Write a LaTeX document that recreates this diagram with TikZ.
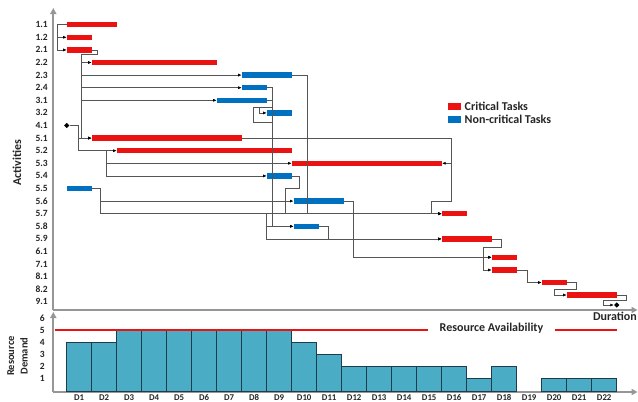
\documentclass[tikz,border=0pt]{standalone}
\usepackage{fontspec}
\setmainfont{Carlito}
\usetikzlibrary{arrows.meta,shapes.geometric}
\definecolor{critred}{RGB}{235,18,18}
\definecolor{ncblue}{RGB}{0,112,192}
\definecolor{tealbar}{RGB}{75,172,198}
\definecolor{tealedge}{RGB}{30,60,75}
\definecolor{axisgray}{RGB}{150,150,150}
\definecolor{linkgray}{RGB}{85,85,85}
\tikzset{
  critbar/.style={rectangle, fill=critred, minimum height=5.5pt, inner sep=0pt, anchor=west},
  ncbar/.style={rectangle, fill=ncblue, minimum height=5.5pt, inner sep=0pt, anchor=west},
  milestone/.style={diamond, fill=black, inner sep=0pt, minimum size=5.5pt},
  link/.style={draw=linkgray, line width=0.6pt},
  arr/.style={link, -{Latex[length=3.5pt,width=3pt,color=black]}},
  rowlab/.style={font=\bfseries\fontsize{9.5}{10}\selectfont, anchor=east, inner sep=0pt, text=black!85},
  axisline/.style={draw=axisgray, line width=1.8pt, -{Triangle[length=6pt,width=6pt]}},
  daylab/.style={font=\bfseries\fontsize{8.8}{10}\selectfont, inner sep=0pt, anchor=base, text=black!85},
  biglab/.style={font=\bfseries\fontsize{12}{13}\selectfont, inner sep=0pt, text=black!85},
  resbar/.style={fill=tealbar, draw=tealedge, line width=0.6pt},
  avail/.style={draw=critred, line width=2pt}
}
\begin{document}
\begin{tikzpicture}[x=1pt,y=-1pt]
\useasboundingbox (0,0) rectangle (638,402);
\fill[white] (0,0) rectangle (638,402);

% ---------- axes ----------
\draw[axisline] (53.3,310) -- (53.3,8);
\draw[axisline] (53.3,310) -- (637.5,310);
\draw[axisline] (53.3,392) -- (53.3,312);
\draw[axisline] (53.3,392) -- (637.5,392);

% ---------- row labels ----------
\foreach \lab [count=\i from 0] in {1.1,1.2,2.1,2.2,2.3,2.4,3.1,3.2,4.1,5.1,5.2,5.3,5.4,5.5,5.6,5.7,5.8,5.9,6.1,7.1,8.1,8.2,9.1}
  \node[rowlab] (lab\i) at (48,{24.7+12.6*\i}) {\lab};

\node[biglab, rotate=90] (acts) at (17,163) {Activities};
\node[biglab, anchor=north east] (dur) at (637,312) {Duration};

% ---------- bars ----------
\node[critbar, minimum width=50pt] (t11) at (66.7,24.7) {};
\node[critbar, minimum width=25pt] (t12) at (66.7,37.3) {};
\node[critbar, minimum width=25pt] (t21) at (66.7,49.9) {};
\node[critbar, minimum width=125pt] (t22) at (91.7,62.5) {};
\node[ncbar, minimum width=50pt] (t23) at (241.7,75.1) {};
\node[ncbar, minimum width=25pt] (t24) at (241.7,87.7) {};
\node[ncbar, minimum width=50pt] (t31) at (216.7,100.3) {};
\node[ncbar, minimum width=25pt] (t32) at (266.7,112.9) {};
\node[milestone] (t41) at (66.7,125.5) {};
\node[critbar, minimum width=150pt] (t51) at (91.7,138.1) {};
\node[critbar, minimum width=175pt] (t52) at (116.7,150.7) {};
\node[critbar, minimum width=150pt] (t53) at (291.7,163.3) {};
\node[ncbar, minimum width=25pt] (t54) at (266.7,175.9) {};
\node[ncbar, minimum width=25pt] (t55) at (66.7,188.5) {};
\node[ncbar, minimum width=50pt] (t56) at (293.5,201.1) {};
\node[critbar, minimum width=25pt] (t57) at (441.7,213.7) {};
\node[ncbar, minimum width=25pt] (t58) at (293.5,226.3) {};
\node[critbar, minimum width=50pt] (t59) at (441.7,238.9) {};
\node[critbar, minimum width=25pt] (t61) at (491.7,257.3) {};
\node[critbar, minimum width=25pt] (t71) at (491.7,270) {};
\node[critbar, minimum width=25pt] (t81) at (541.7,282.5) {};
\node[critbar, minimum width=50pt] (t82) at (566.7,295) {};
\node[milestone] (t91) at (616.7,305) {};

% ---------- links ----------
\draw[arr] (t11.west) -- ++(-9,0) |- (t12.west);
\draw[arr] (t11.west) -- ++(-9,0) |- (t21.west);

\coordinate (j21) at (81.7,54.3);
\draw[link] (t21.east) -- ++(5,0) |- (j21);
\draw[arr] (j21) |- (t22.west);
\draw[arr] (j21) |- (t23.west);
\draw[arr] (j21) |- (t24.west);
\draw[arr] (j21) |- (t31.west);
\draw[arr] (j21) |- (t51.west);

\coordinate (j41) at (78.3,125.5);
\draw[arr] (t41.east) -- (j41) |- (t51.west);
\draw[arr] (j41) |- (t52.west);
\coordinate (j52) at (106.7,150.7);
\draw[arr] (j52) |- (t53.west);
\draw[arr] (j52) |- (t54.west);

\draw[arr] (t55.east) -- ++(8.3,0) |- (t56.west);
\draw[arr] (t55.east) -- ++(8.3,0) |- (t57.west);

\draw[arr] (t23.east) -- ++(15.6,0) |- (t57.west);
\draw[arr] (t24.east) -- ++(5,0) |- (t58.west);
\draw[arr] (t31.east) -- ++(5,0) -- ++(0,7) -- ++(-12.4,0) |- (t32.west);
\coordinate (j31) at (271.7,107.3);
\draw[link] (j31) -- ++(-18.4,0) -- ++(0,15.4) -- ++(18.4,0);

\coordinate (j57) at (266.7,213.7);
\draw[arr] (j57) |- (t58.west);
\draw[arr] (j57) |- (t59.west);

\draw[arr] (t54.east) -- ++(7,0) -- ++(0,12.4) -- ++(-13.7,0) |- (t57.west);
\draw[arr] (t58.east) -- ++(9.4,0) |- (t59.west);
\draw[arr] (t56.east) -- ++(9.2,0) |- (t61.west);

\coordinate (j51) at (451.7,138.1);
\draw[link] (t51.east) -- (j51);
\draw[arr] (j51) |- (t53.east);
\draw[arr] (j51) |- ++(-20,63) |- (t57.west);

\draw[arr] (t59.east) -- ++(9.3,0) -- ++(0,8.8) -- ++(-18.3,0) |- (t61.west);
\draw[arr] (t59.east) -- ++(9.3,0) -- ++(0,8.8) -- ++(-18.3,0) |- (t71.west);
\draw[arr] (t71.east) -- ++(10,0) |- (t81.west);
\draw[arr] (t81.east) -- ++(9,0) -- ++(0,6.8) -- ++(-21.4,0) |- (t82.west);
\draw[arr] (t82.east) -- ++(9.3,0) -- ++(0,5) -- ++(-22.7,0) |- (t91.west);

% ---------- legend ----------
\node[rectangle, fill=critred, minimum width=12.5pt, minimum height=6.5pt, inner sep=0pt] (legc) at (454.5,106.7) {};
\node[biglab, anchor=west] (legct) at (464.5,106.7) {Critical Tasks};
\node[rectangle, fill=ncblue, minimum width=12.5pt, minimum height=6.5pt, inner sep=0pt] (legn) at (454.5,119.3) {};
\node[biglab, anchor=west] (legnt) at (464.5,119.3) {Non-critical Tasks};

% ---------- resource chart ----------
\foreach \k/\v in {1/4,2/4,3/5,4/5,5/5,6/5,7/5,8/5,9/5,10/4,11/3,12/2,13/2,14/2,15/2,16/2,17/1,18/2,20/1,21/1,22/1}
  \draw[resbar] ({66.7+25*(\k-1)},391) rectangle ({66.7+25*\k},{390-12*\v});
\foreach \k in {1,...,22}
  \node[daylab] (d\k) at ({79.2+25*(\k-1)},400.3) {D\k};
\foreach \v in {1,...,6}
  \node[rowlab] (r\v) at (45,{390-12*\v}) {\v};

\draw[avail] (55,330) -- (428,330);
\draw[avail] (555,330) -- (617,330);
\node[biglab] (ravail) at (491.5,328.5) {Resource Availability};

\node[font=\bfseries\fontsize{10.5}{13.5}\selectfont, rotate=90, align=center, inner sep=0pt, text=black!85] (rdem) at (17.5,356) {Resource\\Demand};
\end{tikzpicture}
\end{document}
